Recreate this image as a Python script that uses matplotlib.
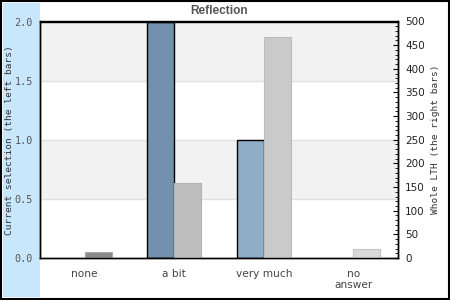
import matplotlib
matplotlib.use("Agg")
import matplotlib.pyplot as plt
from matplotlib.patches import Rectangle
from matplotlib.ticker import MultipleLocator
import numpy as np

categories = ['none', 'a bit', 'very much', 'no\nanswer']
current = [0, 2.0, 1.0, 0]
whole = [13, 159, 467, 19]
current_colors = ['#8eaec8', '#7191ac', '#8eaec8', '#8eaec8']
whole_colors = ['#8a8a8a', '#bebebe', '#cacaca', '#d9d9d9']
whole_edges = ['#a8a8a8', '#b4b4b4', '#bcbcbc', '#c4c4c4']
left_ticks = [0.0, 0.5, 1.0, 1.5, 2.0]

fig = plt.figure(figsize=(4.5, 3.0), dpi=100)
# light blue band and figure border
fig.patches.append(Rectangle((3/450, 3/300), 37/450, 294/300, transform=fig.transFigure,
                             facecolor='#c8e7fd', edgecolor='none', zorder=-10))
fig.patches.append(Rectangle((0.002, 0.003), 0.995, 0.994, transform=fig.transFigure,
                             facecolor='none', edgecolor='black', linewidth=1.5, zorder=10))

ax = fig.add_axes([40/450, 42/300, 358/450, 236.5/300])
ax.set_facecolor('white')
for lo in [0.5, 1.5]:
    ax.axhspan(lo, lo + 0.5, color='#f2f2f2', zorder=0, linewidth=0)
for g in [0.5, 1.0, 1.5]:
    ax.axhline(g, color='#e0e0e0', linewidth=1.0, zorder=0.5)

x = np.arange(len(categories))
w = 0.3
edge_cur = ['black' if v > 0 else 'none' for v in current]
ax.bar(x - w/2, current, width=w, color=current_colors, edgecolor=edge_cur,
       linewidth=1.0, zorder=2)
ax.set_xlim(-0.5, 3.5)
ax.set_ylim(0, 2.0)
ax.set_yticks(left_ticks)
ax.set_yticklabels([f"{t:.1f}" for t in left_ticks], family='DejaVu Sans Mono',
                   fontsize=7.3, color='#555555')
ax.tick_params(axis='y', length=0, pad=5)
ax.set_xticks(x)
ax.set_xticklabels(categories, fontsize=7.6, color='#444444', linespacing=1.1)
ax.tick_params(axis='x', length=0, pad=8)
ax.set_ylabel('Current selection (the left bars)', family='DejaVu Sans Mono',
              fontsize=6.8, color='#333333')
ax.yaxis.set_label_coords(-26/358, 0.5)
for s in ax.spines.values():
    s.set_color('black')
    s.set_linewidth(1.0)

ax2 = ax.twinx()
ax2.bar(x + w/2, whole, width=w, color=whole_colors, edgecolor=whole_edges,
        linewidth=0.8, zorder=2)
ax2.set_ylim(0, 500)
ax2.yaxis.set_major_locator(MultipleLocator(50))
ax2.yaxis.set_minor_locator(MultipleLocator(10))
ax2.tick_params(axis='y', which='major', direction='in', length=3.5, width=0.8,
                pad=5, labelsize=7.5, labelcolor='#222222')
ax2.tick_params(axis='y', which='minor', direction='in', length=2, width=0.6)
ax2.set_ylabel('Whole LTH (the right bars)', family='DejaVu Sans Mono',
               fontsize=6.8, color='#333333')
ax2.yaxis.set_label_coords(1 + 33/358, 0.5)
for s in ax2.spines.values():
    s.set_color('black')
    s.set_linewidth(1.0)

fig.text(219/450, 1 - 11/300, 'Reflection', ha='center', va='center',
         family='Liberation Sans', fontweight='bold', fontsize=8.6, color='#555555')

fig.savefig('out.png', dpi=100)
